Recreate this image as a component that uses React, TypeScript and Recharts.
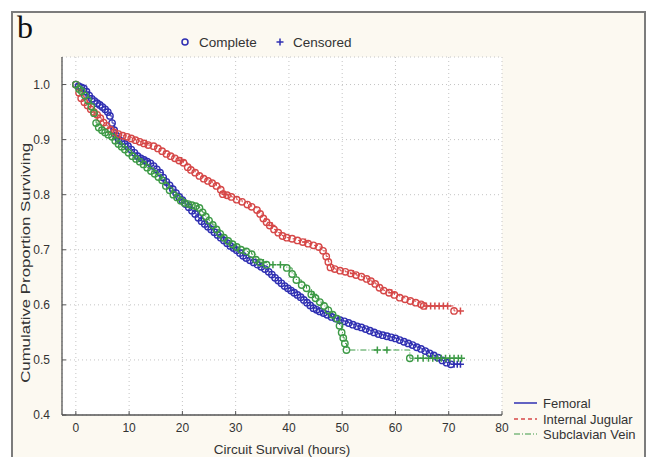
import React from 'react';
import { ComposedChart, Line, XAxis, YAxis, CartesianGrid } from 'recharts';

const X_TICKS = [0, 10, 20, 30, 40, 50, 60, 70, 80];
const Y_TICKS = [0.4, 0.5, 0.6, 0.7, 0.8, 0.9, 1.0];

const SERIES_NAMES = ['Femoral', 'Internal Jugular', 'Subclavian Vein'];
const MARKER_NAMES = ['Complete', 'Censored'];

// Femoral (complete events)
const femoralEvents: [number, number][] = [
  [0, 1.0], [0.5, 0.997], [1.0, 0.995], [1.5, 0.993], [2.0, 0.987], [2.5, 0.98], [3.0, 0.974],
  [3.5, 0.97], [4.0, 0.966], [4.5, 0.963], [5.0, 0.959], [5.5, 0.955], [6.0, 0.95], [6.4, 0.943],
  [6.8, 0.93], [7.2, 0.917], [7.6, 0.907], [8.0, 0.901], [8.6, 0.897], [9.2, 0.892], [9.8, 0.888],
  [10.4, 0.882], [11.0, 0.876], [11.6, 0.87], [12.2, 0.866], [12.8, 0.863], [13.4, 0.86], [14.0, 0.857],
  [14.6, 0.852], [15.2, 0.846], [15.8, 0.84], [16.4, 0.831], [17.0, 0.823], [17.6, 0.817], [18.2, 0.81],
  [18.8, 0.803], [19.4, 0.796], [20.0, 0.79], [20.6, 0.783], [21.2, 0.777], [21.8, 0.771], [22.4, 0.765],
  [23.0, 0.758], [23.6, 0.752], [24.2, 0.747], [24.8, 0.742], [25.4, 0.737], [26.0, 0.732], [26.6, 0.727],
  [27.2, 0.722], [27.8, 0.717], [28.4, 0.712], [29.0, 0.707], [29.6, 0.703], [30.2, 0.699], [30.8, 0.694],
  [31.4, 0.689], [32.0, 0.685], [32.7, 0.681], [33.4, 0.677], [34.1, 0.673], [34.8, 0.669], [35.5, 0.665],
  [36.2, 0.66], [36.8, 0.655], [37.4, 0.649], [38.0, 0.644], [38.6, 0.639], [39.2, 0.634], [39.8, 0.63],
  [40.4, 0.626], [41.0, 0.622], [41.6, 0.618], [42.2, 0.614], [42.8, 0.609], [43.4, 0.604], [44.0, 0.599],
  [44.6, 0.594], [45.2, 0.591], [45.8, 0.588], [46.5, 0.585], [47.2, 0.582], [48.0, 0.578], [48.8, 0.575],
  [49.6, 0.572], [50.4, 0.57], [51.2, 0.567], [52.0, 0.564], [52.8, 0.561], [53.6, 0.559], [54.4, 0.556],
  [55.2, 0.553], [56.0, 0.55], [56.8, 0.547], [57.6, 0.545], [58.4, 0.543], [59.2, 0.541], [60.0, 0.539],
  [60.8, 0.536], [61.6, 0.533], [62.4, 0.53], [63.2, 0.527], [64.0, 0.523], [64.8, 0.52], [65.6, 0.516],
  [66.4, 0.512], [67.2, 0.508], [68.0, 0.504], [68.8, 0.499], [69.6, 0.495], [70.4, 0.492],
];
const femoralCensored: [number, number][] = [
  [71.0, 0.492], [71.6, 0.492], [72.2, 0.492],
];

// Internal Jugular
const jugularEvents: [number, number][] = [
  [0, 1.0], [0.6, 0.985], [1.0, 0.975], [1.6, 0.968], [2.2, 0.962], [2.8, 0.955], [3.4, 0.95],
  [4.0, 0.945], [4.6, 0.939], [5.2, 0.931], [5.8, 0.925], [6.5, 0.918], [7.2, 0.913], [8.0, 0.91],
  [8.8, 0.907], [9.6, 0.905], [10.4, 0.902], [11.2, 0.899], [12.0, 0.896], [12.8, 0.893], [13.6, 0.89],
  [14.6, 0.888], [15.4, 0.884], [16.2, 0.879], [17.0, 0.874], [17.8, 0.87], [18.6, 0.866], [19.4, 0.862],
  [20.2, 0.858], [21.0, 0.85], [21.6, 0.845], [22.4, 0.84], [23.2, 0.834], [24.0, 0.829], [24.8, 0.825],
  [25.6, 0.821], [26.4, 0.816], [27.2, 0.809], [27.6, 0.801], [28.4, 0.799], [29.2, 0.796], [30.2, 0.791],
  [31.2, 0.787], [32.2, 0.782], [33.0, 0.778], [34.0, 0.772], [34.6, 0.765], [35.2, 0.757], [35.8, 0.75],
  [36.4, 0.744], [37.2, 0.737], [38.0, 0.731], [38.8, 0.725], [39.6, 0.722], [40.6, 0.72], [41.6, 0.717],
  [42.6, 0.714], [43.6, 0.711], [44.6, 0.708], [45.6, 0.705], [46.4, 0.698], [47.0, 0.688], [47.4, 0.678],
  [47.8, 0.668], [48.6, 0.665], [49.6, 0.662], [50.6, 0.66], [51.6, 0.657], [52.6, 0.654], [53.6, 0.651],
  [54.6, 0.647], [55.4, 0.643], [56.2, 0.638], [57.0, 0.631], [57.8, 0.626], [58.8, 0.622], [59.8, 0.618],
  [60.8, 0.613], [61.8, 0.61], [62.8, 0.607], [63.8, 0.604], [64.8, 0.601], [65.3, 0.598], [71.0, 0.589],
];
const jugularCensored: [number, number][] = [
  [13.2, 0.893], [19.8, 0.862], [28.0, 0.801], [36.8, 0.744], [43.1, 0.714], [52.1, 0.657], [59.3, 0.622],
  [65.8, 0.598], [66.6, 0.598], [67.4, 0.598], [68.2, 0.598], [69.0, 0.598], [69.8, 0.598], [72.2, 0.589],
];

// Subclavian Vein
const subclavianEvents: [number, number][] = [
  [0, 1.0], [0.6, 0.992], [1.1, 0.988], [1.7, 0.98], [2.3, 0.971], [2.9, 0.96], [3.4, 0.948],
  [3.8, 0.93], [4.3, 0.922], [4.9, 0.917], [5.5, 0.913], [6.1, 0.909], [6.8, 0.905], [7.4, 0.898],
  [8.0, 0.892], [8.6, 0.887], [9.2, 0.882], [9.9, 0.876], [10.6, 0.87], [11.3, 0.865], [12.0, 0.86],
  [12.7, 0.855], [13.4, 0.849], [14.1, 0.843], [14.8, 0.838], [15.5, 0.832], [16.2, 0.826], [16.9, 0.816],
  [17.6, 0.808], [18.3, 0.8], [19.0, 0.795], [19.7, 0.789], [20.4, 0.785], [21.1, 0.783], [21.8, 0.781],
  [22.5, 0.779], [23.2, 0.776], [23.8, 0.768], [24.4, 0.76], [25.0, 0.753], [25.7, 0.745], [26.4, 0.737],
  [27.1, 0.729], [27.8, 0.722], [28.6, 0.716], [29.4, 0.71], [30.2, 0.705], [31.0, 0.7], [32.0, 0.697],
  [33.0, 0.692], [33.8, 0.682], [34.6, 0.677], [35.8, 0.673], [39.6, 0.667], [40.6, 0.656], [41.4, 0.645],
  [42.4, 0.636], [43.3, 0.63], [44.2, 0.619], [45.0, 0.612], [45.8, 0.605], [46.6, 0.598], [47.4, 0.59],
  [48.2, 0.582], [49.0, 0.575], [49.5, 0.562], [49.9, 0.55], [50.2, 0.54], [50.5, 0.53], [50.8, 0.518],
  [62.7, 0.503],
];
const subclavianCensored: [number, number][] = [
  [35.2, 0.677], [37.0, 0.673], [38.4, 0.673], [44.6, 0.619], [56.6, 0.518], [58.4, 0.518],
  [64.2, 0.503], [65.2, 0.503], [66.2, 0.503], [67.0, 0.503], [67.8, 0.503], [68.6, 0.503],
  [69.4, 0.503], [70.2, 0.503], [71.0, 0.503], [71.8, 0.503], [72.4, 0.503],
];

type Pt = { t: number; s: number; c: boolean };
const build = (ev: [number, number][], ce: [number, number][]): Pt[] =>
  [
    ...ev.map(([t, s]) => ({ t, s, c: false })),
    ...ce.map(([t, s]) => ({ t, s, c: true })),
  ].sort((a, b) => a.t - b.t);

const femoralData = build(femoralEvents, femoralCensored);
const jugularData = build(jugularEvents, jugularCensored);
const subclavianData = build(subclavianEvents, subclavianCensored);

const BLUE = '#2f2fb2';
const RED = '#d64848';
const GREEN = '#3d9a46';
const FONT = '"Liberation Sans", Arial, sans-serif';

const makeDot = (color: string, prefix: string) => (props: any) => {
  const { cx, cy, payload, index } = props;
  const key = `${prefix}-${index}`;
  if (typeof cx !== 'number' || typeof cy !== 'number') return <g key={key} />;
  if (payload && payload.c) {
    return (
      <path
        key={key}
        d={`M${cx - 3.5},${cy}H${cx + 3.5}M${cx},${cy - 3.5}V${cy + 3.5}`}
        stroke={color}
        strokeWidth={1.5}
        fill="none"
      />
    );
  }
  return <circle key={key} cx={cx} cy={cy} r={3.2} fill="none" stroke={color} strokeWidth={1.4} />;
};

const XLabel = (props: any) => {
  const vb = props.viewBox || { x: 62, y: 415, width: 440, height: 30 };
  return (
    <text
      x={vb.x + vb.width / 2}
      y={vb.y + 39}
      textAnchor="middle"
      fontSize={13.5}
      fontFamily={FONT}
      fill="#333"
    >
      Circuit Survival (hours)
    </text>
  );
};

const YLabel = (props: any) => {
  const vb = props.viewBox || { x: 12, y: 57, width: 50, height: 358 };
  const cx = vb.x + 14;
  const cy = vb.y + vb.height * 0.575;
  return (
    <text
      x={cx}
      y={cy}
      transform={`rotate(-90, ${cx}, ${cy})`}
      textAnchor="middle"
      dominantBaseline="central"
      fontSize={13}
      fontFamily={FONT}
      fill="#333"
      textLength={240}
      lengthAdjust="spacingAndGlyphs"
    >
      Cumulative Proportion Surviving
    </text>
  );
};

export default function App() {
  const tickStyle = { fontSize: 12, fontFamily: FONT, fill: '#333' };
  return (
    <div
      style={{
        position: 'absolute',
        left: 0,
        top: 0,
        width: 648,
        height: 457,
        background: '#ffffff',
        overflow: 'hidden',
      }}
    >
      <div
        style={{
          position: 'absolute',
          left: 11,
          top: 11,
          width: 635,
          height: 470,
          boxSizing: 'border-box',
          border: '2px solid #7c7c7c',
          background: '#fcf9f1',
        }}
      />
      <div style={{ position: 'absolute', left: 0, top: 0 }}>
        <ComposedChart
          width={648}
          height={457}
          margin={{ top: 57, right: 146, bottom: 12, left: 12 }}
        >
          <CartesianGrid fill="#ffffff" stroke="#c4c4c4" strokeDasharray="1 3" />
          <XAxis
            type="number"
            dataKey="t"
            domain={[-2.6, 80]}
            ticks={X_TICKS}
            allowDataOverflow
            height={30}
            axisLine={{ stroke: '#555', strokeWidth: 1.3 }}
            tickLine={{ stroke: '#555' }}
            tickSize={-4}
            tickMargin={12}
            tick={tickStyle}
            label={<XLabel />}
          />
          <XAxis
            xAxisId="top"
            orientation="top"
            type="number"
            domain={[-2.6, 80]}
            ticks={X_TICKS}
            allowDataOverflow
            height={0}
            axisLine={{ stroke: '#555', strokeWidth: 1.3 }}
            tickLine={{ stroke: '#555' }}
            tickSize={-4}
            tick={false}
          />
          <YAxis
            type="number"
            domain={[0.4, 1.05]}
            ticks={Y_TICKS}
            allowDataOverflow
            width={50}
            axisLine={{ stroke: '#555', strokeWidth: 1.3 }}
            tickLine={{ stroke: '#555' }}
            tickSize={-4}
            tickMargin={16}
            tick={tickStyle}
            tickFormatter={(v: number) => v.toFixed(1)}
            label={<YLabel />}
          />
          <YAxis
            yAxisId="right"
            orientation="right"
            type="number"
            domain={[0.4, 1.05]}
            ticks={Y_TICKS}
            allowDataOverflow
            width={0}
            axisLine={{ stroke: '#555', strokeWidth: 1.3 }}
            tickLine={{ stroke: '#555' }}
            tickSize={-4}
            tick={false}
          />
          <Line
            data={femoralData}
            dataKey="s"
            name={SERIES_NAMES[0]}
            type="stepAfter"
            stroke={BLUE}
            strokeWidth={1}
            dot={makeDot(BLUE, 'f')}
            activeDot={false}
            isAnimationActive={false}
          />
          <Line
            data={jugularData}
            dataKey="s"
            name={SERIES_NAMES[1]}
            type="stepAfter"
            stroke={RED}
            strokeWidth={1}
            strokeDasharray="4 3"
            dot={makeDot(RED, 'j')}
            activeDot={false}
            isAnimationActive={false}
          />
          <Line
            data={subclavianData}
            dataKey="s"
            name={SERIES_NAMES[2]}
            type="stepAfter"
            stroke={GREEN}
            strokeWidth={1}
            strokeDasharray="6 2 1 2"
            dot={makeDot(GREEN, 's')}
            activeDot={false}
            isAnimationActive={false}
          />
        </ComposedChart>
      </div>
      <svg
        width={648}
        height={457}
        style={{ position: 'absolute', left: 0, top: 0, pointerEvents: 'none' }}
      >
        <text x={17} y={38} fontSize={32} fontFamily='"Liberation Serif", "Times New Roman", serif' fill="#111">
          b
        </text>
        <circle cx={185} cy={42} r={3} fill="none" stroke={BLUE} strokeWidth={1.5} />
        <text x={199} y={46.5} fontSize={13.5} fontFamily={FONT} fill="#333">
          {MARKER_NAMES[0]}
        </text>
        <path d="M276.5,42H283.5M280,38.5V45.5" stroke={BLUE} strokeWidth={1.5} />
        <text x={293} y={46.5} fontSize={13.5} fontFamily={FONT} fill="#333">
          {MARKER_NAMES[1]}
        </text>
        <line x1={514} x2={537} y1={403} y2={403} stroke={BLUE} strokeWidth={1.5} />
        <text x={543} y={407.5} fontSize={13} fontFamily={FONT} fill="#333">
          {SERIES_NAMES[0]}
        </text>
        <line x1={514} x2={537} y1={419} y2={419} stroke={RED} strokeWidth={1.5} strokeDasharray="4 3" />
        <text x={543} y={423.5} fontSize={13} fontFamily={FONT} fill="#333">
          {SERIES_NAMES[1]}
        </text>
        <line x1={514} x2={537} y1={434} y2={434} stroke={GREEN} strokeWidth={1.2} strokeDasharray="6 2 1 2" />
        <text x={543} y={438.5} fontSize={13} fontFamily={FONT} fill="#333">
          {SERIES_NAMES[2]}
        </text>
      </svg>
    </div>
  );
}
